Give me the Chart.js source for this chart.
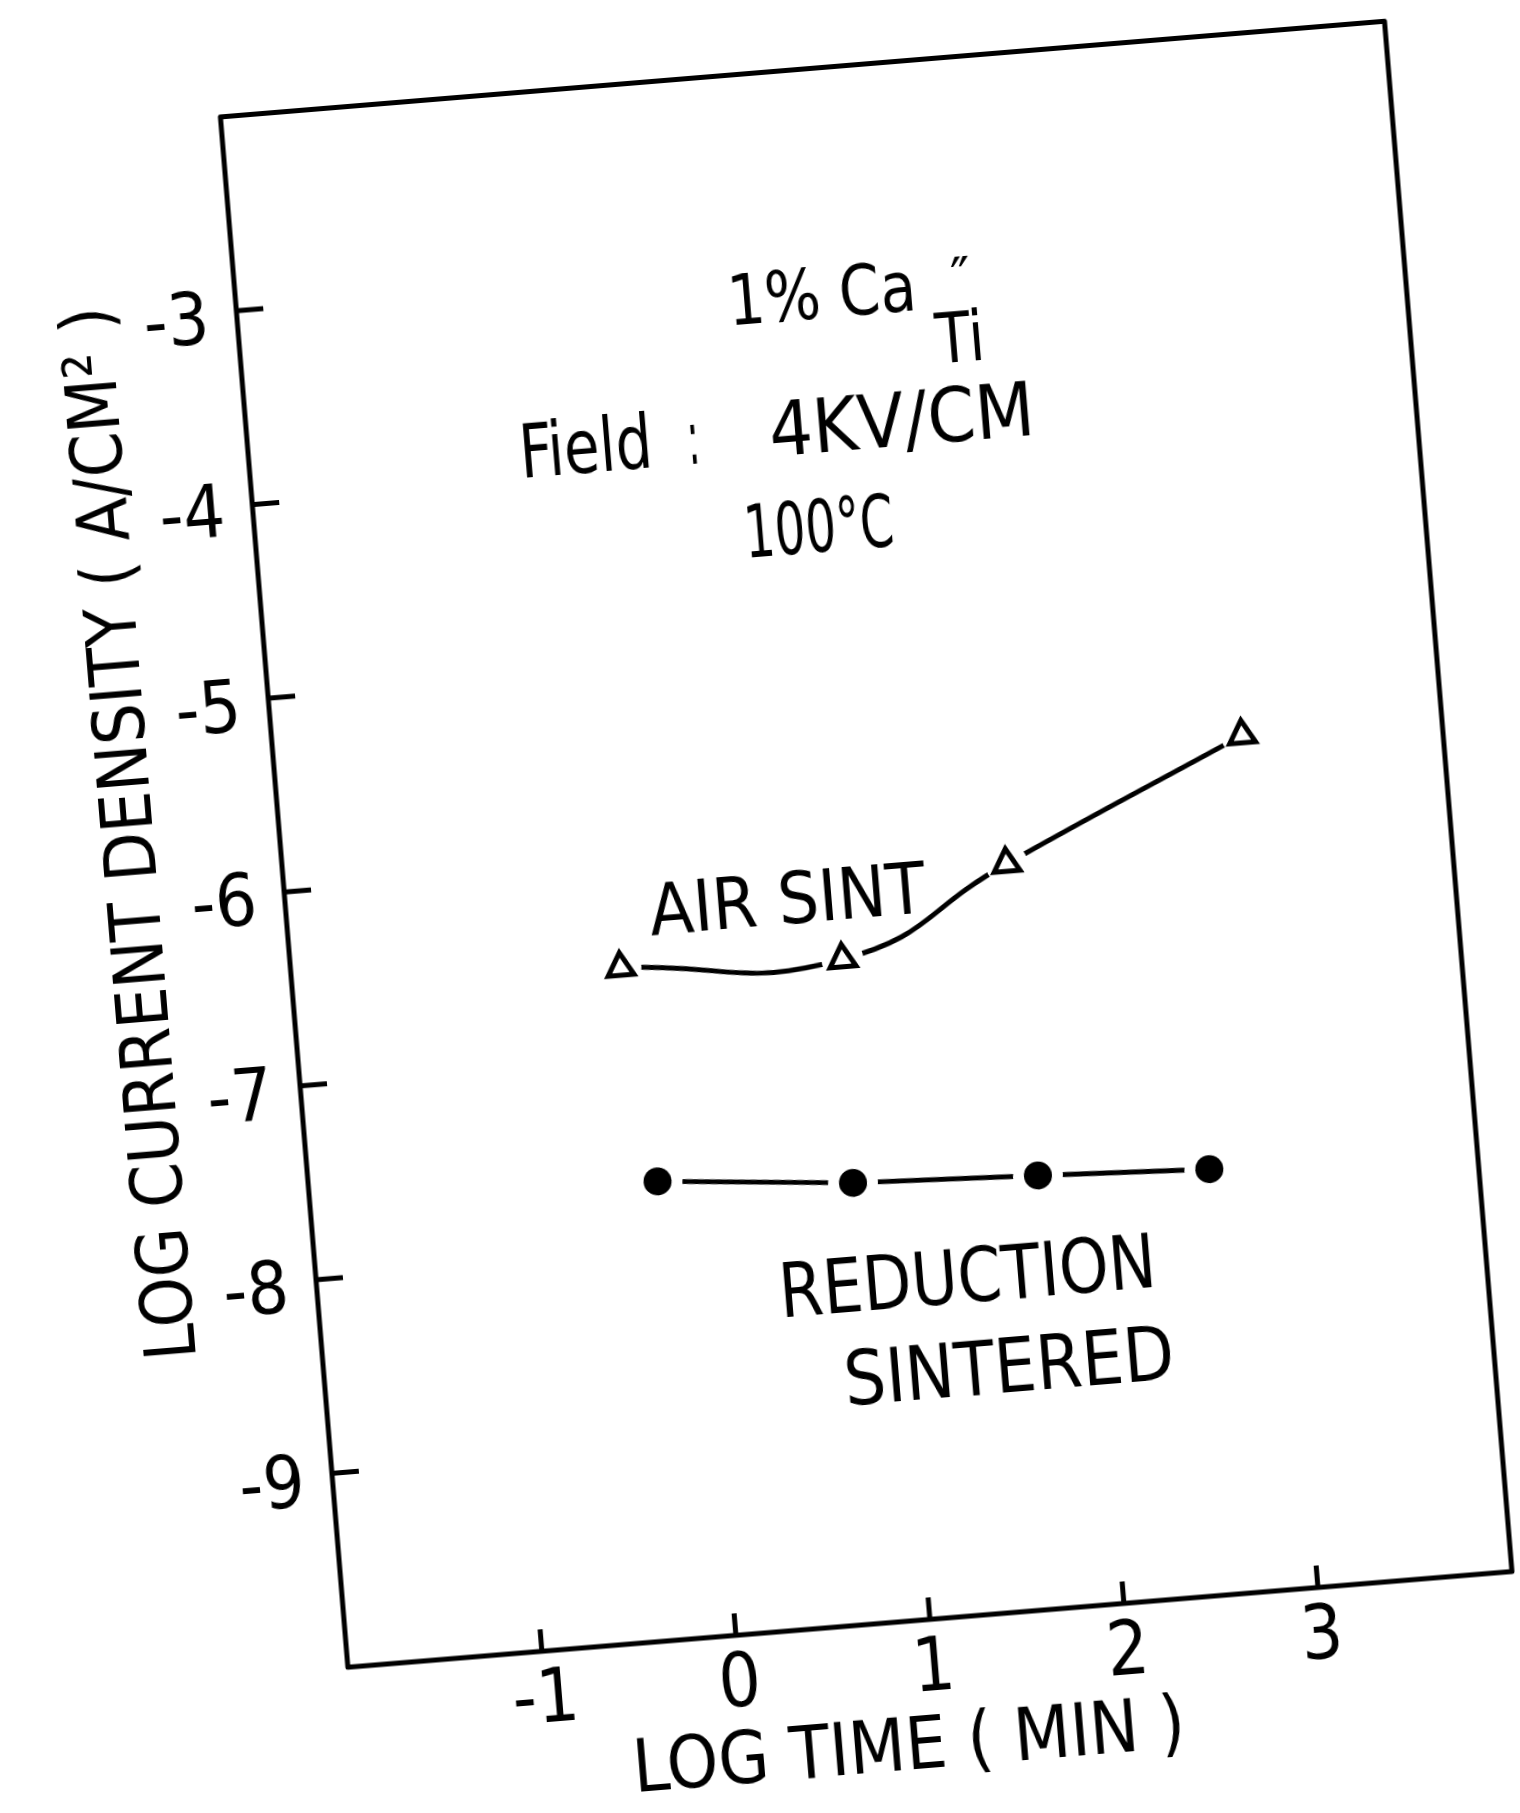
<!DOCTYPE html>
<html>
<head>
<meta charset="utf-8">
<script src="https://cdn.jsdelivr.net/npm/chart.js@4.4.0/dist/chart.umd.min.js"></script>
<style>
  html, body { margin: 0; padding: 0; background: #fff; overflow: hidden; width: 1520px; height: 1813px; }
  #wrap {
    position: absolute; left: -18px; top: 2px; width: 1498px; height: 1806px;
    transform-origin: 884px 840px; transform: rotate(-4.7deg);
  }
</style>
</head>
<body>
<div id="wrap"><canvas id="currentChart" width="1498" height="1806"></canvas></div>
<script>
// log time (min) / log current density (A/cm2)
const xTicks = [-1, 0, 1, 2, 3]
const xTickLabels = ['-1', '0', '1', '2', '3']
const yTicks = [-3, -4, -5, -6, -7, -8, -9]
const yTickLabels = ['-3', '-4', '-5', '-6', '-7', '-8', '-9']

const airTime = [-0.31, 0.83, 1.71, 2.97]
const airCurrent = [-6.53, -6.58, -6.16, -5.60]

const redTime = [-0.21, 0.79, 1.74, 2.62]
const redCurrent = [-7.64, -7.73, -7.77, -7.81]

const FONT = "'DejaVu Sans Condensed', 'DejaVu Sans', sans-serif"
Chart.defaults.font.family = FONT
Chart.defaults.color = '#000'

const pts = (xs, ys) => xs.map((x, i) => ({ x: x, y: ys[i] }))

// plot frame with inward tick marks
const frame = {
    id: 'frame',
    beforeDatasetsDraw(chart) {
        const { ctx, chartArea: a, scales: { x, y } } = chart
        ctx.save()
        ctx.strokeStyle = '#000'
        ctx.lineWidth = 5
        ctx.lineJoin = 'round'
        ctx.strokeRect(a.left, a.top, a.width, a.height)
        ctx.beginPath()
        xTicks.forEach(v => {
            const px = x.getPixelForValue(v)
            ctx.moveTo(px, a.bottom)
            ctx.lineTo(px, a.bottom - 22)
        })
        yTicks.forEach(v => {
            const py = y.getPixelForValue(v)
            ctx.moveTo(a.left, py)
            ctx.lineTo(a.left + 27, py)
        })
        ctx.stroke()
        ctx.restore()
    }
}

// text written inside the plot; the lettering is narrower than the font, so squeeze it
const notes = {
    id: 'notes',
    afterDatasetsDraw(chart) {
        const { ctx, scales: { x, y } } = chart
        const put = (text, vx, vy, size, width, align) => {
            ctx.font = size + 'px ' + FONT
            ctx.textAlign = align || 'left'
            const sx = width / ctx.measureText(text).width
            ctx.save()
            ctx.translate(x.getPixelForValue(vx), y.getPixelForValue(vy))
            ctx.scale(sx, 1)
            ctx.fillText(text, 0, 0)
            ctx.restore()
        }
        ctx.save()
        ctx.fillStyle = '#000'
        ctx.textBaseline = 'alphabetic'
        put('1% Ca', 0.518, -3.285, 69, 189)
        put('\u2033', 1.723, -3.23, 56, 20, 'center')
        put('Ti', 1.567, -3.566, 70, 49)
        put('Field', -0.611, -3.979, 75, 133)
        put(':', 0.254, -3.98, 75, 12)
        put('4KV/CM', 0.677, -3.972, 75, 266)
        put('100°C', 0.506, -4.483, 73, 150)
        put('AIR SINT', -0.139, -6.375, 72, 277)
        put('REDUCTION', 0.365, -8.392, 75, 378)
        put('SINTERED', 0.661, -8.869, 75, 331)
        ctx.restore()
    }
}

new Chart(document.getElementById('currentChart'), {
    type: 'scatter',
    data: {
        datasets: [
            {
                // air sintered curve, white discs open gaps round the markers
                data: pts(airTime, airCurrent),
                showLine: true,
                borderColor: '#000',
                borderWidth: 5,
                tension: 0.5,
                pointRadius: 21,
                pointBackgroundColor: '#fff',
                pointBorderWidth: 0,
                order: 2
            },
            {
                data: pts(airTime, airCurrent),
                showLine: false,
                pointStyle: 'triangle',
                pointRadius: 15,
                pointBorderWidth: 5,
                pointBorderColor: '#000',
                pointBackgroundColor: '#fff',
                order: 0
            },
            {
                // reduction sintered
                data: pts(redTime, redCurrent),
                showLine: true,
                borderColor: '#000',
                borderWidth: 5,
                tension: 0,
                pointRadius: 25,
                pointBackgroundColor: '#fff',
                pointBorderWidth: 0,
                order: 2
            },
            {
                data: pts(redTime, redCurrent),
                showLine: false,
                pointStyle: 'circle',
                pointRadius: 14,
                pointBorderWidth: 0,
                pointBackgroundColor: '#000',
                order: 0
            }
        ]
    },
    options: {
        responsive: false,
        animation: false,
        devicePixelRatio: 1,
        layout: { padding: { left: 120, top: 60, right: 30, bottom: 20 } },
        plugins: {
            legend: { display: false },
            tooltip: { enabled: false }
        },
        scales: {
            x: {
                type: 'linear',
                min: -2,
                max: 4,
                afterBuildTicks: s => { s.ticks = xTicks.map(v => ({ value: v })) },
                afterFit: s => { s.height = 166 },
                grid: { display: false, drawTicks: false },
                border: { display: false },
                ticks: {
                    autoSkip: false,
                    maxRotation: 0,
                    minRotation: 0,
                    padding: 15,
                    color: '#000',
                    font: { size: 74, lineHeight: 1 },
                    callback: v => xTickLabels[xTicks.indexOf(v)]
                },
                title: {
                    display: true,
                    // trailing spaces push the title a little left, as in the original
                    text: 'LOG TIME ( MIN )\u00a0\u00a0\u00a0',
                    color: '#000',
                    font: { size: 73, lineHeight: 1 },
                    padding: 0
                }
            },
            y: {
                type: 'linear',
                min: -10,
                max: -2,
                afterBuildTicks: s => { s.ticks = yTicks.map(v => ({ value: v })) },
                afterFit: s => { s.width = 180 },
                grid: { display: false, drawTicks: false },
                border: { display: false },
                ticks: {
                    autoSkip: false,
                    padding: 28,
                    labelOffset: 11,
                    color: '#000',
                    font: { size: 73, lineHeight: 1 },
                    callback: v => yTickLabels[yTicks.indexOf(v)]
                },
                title: {
                    display: true,
                    // leading spaces lift the title towards the top, as in the original
                    text: '\u00a0\u00a0\u00a0\u00a0\u00a0\u00a0\u00a0LOG CURRENT DENSITY ( A/CM\u00b2 )',
                    color: '#000',
                    font: { size: 71, lineHeight: 1 },
                    padding: 0
                }
            }
        }
    },
    plugins: [frame, notes]
})
</script>
</body>
</html>
